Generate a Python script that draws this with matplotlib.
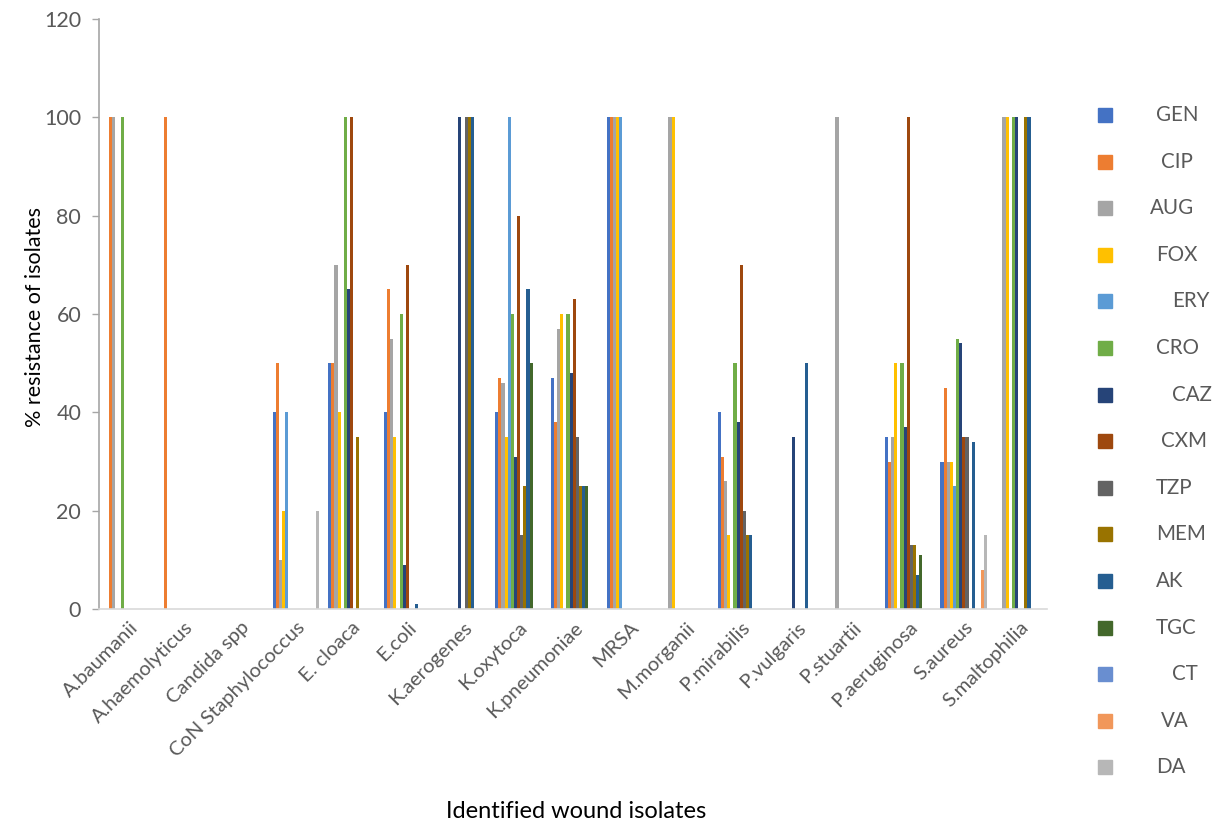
import matplotlib
matplotlib.use("Agg")
import matplotlib.pyplot as plt
import numpy as np

plt.rcParams['font.family'] = ['Lato', 'DejaVu Sans']

categories = ["A.baumanii", "A.haemolyticus", "Candida spp", "CoN Staphylococcus",
              "E. cloaca", "E.coli", "K.aerogenes", "K.oxytoca", "K.pneumoniae",
              "MRSA", "M.morganii", "P.mirabilis", "P.vulgaris", "P.stuartii",
              "P.aeruginosa", "S.aureus", "S.maltophilia"]

series_names = ["GEN", "CIP", "AUG", "FOX", "ERY", "CRO", "CAZ", "CXM",
                "TZP", "MEM", "AK", "TGC", "CT", "VA", "DA"]

GEN = [0, 0, 0, 40, 50, 40, 0, 40, 47, 100, 0, 40, 0, 0, 35, 30, 0]
CIP = [100, 100, 0, 50, 50, 65, 0, 47, 38, 100, 0, 31, 0, 0, 30, 45, 0]
AUG = [100, 0, 0, 10, 70, 55, 0, 46, 57, 100, 100, 26, 0, 100, 35, 30, 100]
FOX = [0, 0, 0, 20, 40, 35, 0, 35, 60, 100, 100, 15, 0, 0, 50, 30, 100]
ERY = [0, 0, 0, 40, 0, 0, 0, 100, 0, 100, 0, 0, 0, 0, 0, 25, 0]
CRO = [100, 0, 0, 0, 100, 60, 0, 60, 60, 0, 0, 50, 0, 0, 50, 55, 100]
CAZ = [0, 0, 0, 0, 65, 9, 100, 31, 48, 0, 0, 38, 35, 0, 37, 54, 100]
CXM = [0, 0, 0, 0, 100, 70, 0, 80, 63, 0, 0, 70, 0, 0, 100, 35, 0]
TZP = [0, 0, 0, 0, 0, 0, 100, 15, 35, 0, 0, 20, 0, 0, 13, 35, 0]
MEM = [0, 0, 0, 0, 35, 0, 100, 25, 25, 0, 0, 15, 0, 0, 13, 0, 100]
AK = [0, 0, 0, 0, 0, 1, 100, 65, 25, 0, 0, 15, 50, 0, 7, 34, 100]
TGC = [0, 0, 0, 0, 0, 0, 0, 50, 25, 0, 0, 0, 0, 0, 11, 0, 0]
CT = [0] * 17
VA = [0, 0, 0, 0, 0, 0, 0, 0, 0, 0, 0, 0, 0, 0, 0, 8, 0]
DA = [0, 0, 0, 20, 0, 0, 0, 0, 0, 0, 0, 0, 0, 0, 0, 15, 0]

values = [GEN, CIP, AUG, FOX, ERY, CRO, CAZ, CXM, TZP, MEM, AK, TGC, CT, VA, DA]

colors = ["#4472C4", "#ED7D31", "#A5A5A5", "#FFC000", "#5B9BD5", "#70AD47",
          "#264478", "#9E480E", "#636363", "#997300", "#255E91", "#43682B",
          "#698ED0", "#F1975A", "#B7B7B7"]

# the original legend labels have uneven leading space
legend_x = [1156, 1161, 1150, 1156, 1172, 1156, 1172, 1161,
            1156, 1156, 1156, 1156, 1172, 1161, 1156]

W, H = 1223, 826
fig = plt.figure(figsize=(W / 100, H / 100), dpi=100)
ax = fig.add_axes([99.3 / W, (H - 609) / H, (1046.7 - 99.3) / W, (609 - 19) / H])

x = np.arange(len(categories))
bw = 0.0562
for j, (vals, c) in enumerate(zip(values, colors)):
    ax.bar(x + (j - 7) * bw, vals, width=bw, color=c, linewidth=0)

ax.set_xlim(-0.534, 16.487)
ax.set_ylim(0, 120)
ax.set_yticks(range(0, 121, 20))
ax.set_xticks(x)
ax.set_xticklabels(categories, rotation=45, ha='right', rotation_mode='anchor',
                   fontsize=14.5, color='#595959')
ax.tick_params(axis='x', length=0, pad=7)
ax.tick_params(axis='y', length=5, width=1, color='#A6A6A6', labelsize=15.5,
               labelcolor='#595959', pad=8)

for s in ['top', 'right']:
    ax.spines[s].set_visible(False)
ax.spines['left'].set_color('#A6A6A6')
ax.spines['left'].set_linewidth(1.2)
ax.spines['bottom'].set_color('#D9D9D9')
ax.spines['bottom'].set_linewidth(1.2)

ax.set_ylabel("% resistance of isolates", fontsize=15.5, color='black')
ax.yaxis.set_label_coords((45 - 99.3) / 947.4, (609 - 317) / 590)
fig.text(576 / W, 1 - 812 / H, "Identified wound isolates", fontsize=17,
         ha='center', va='center', color='black')

# legend drawn by hand to keep the original spacing
y0, dy = 115, 46.6
for j, (lab, c) in enumerate(zip(series_names, colors)):
    yc = y0 + j * dy
    fig.patches.append(plt.Rectangle((1098 / W, 1 - (yc + 7) / H), 14 / W, 14 / H,
                                     transform=fig.transFigure, color=c))
    fig.text(legend_x[j] / W, 1 - yc / H, lab, fontsize=14.8,
             color='#595959', ha='left', va='center')

fig.savefig("out.png", dpi=100)
